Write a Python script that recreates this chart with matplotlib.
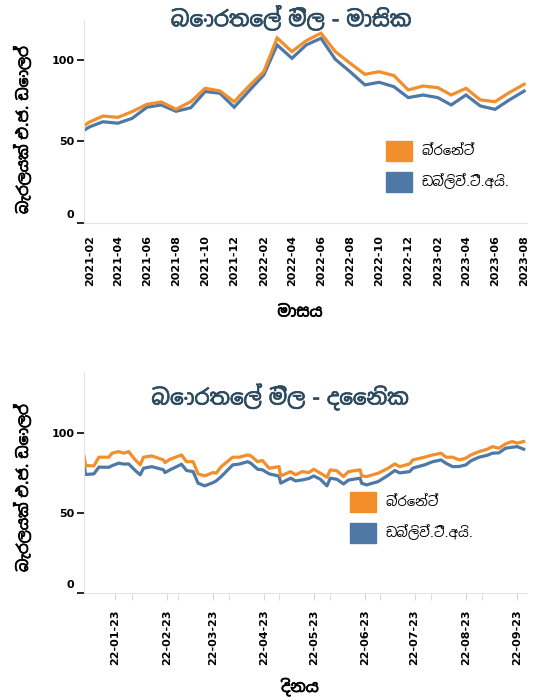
import matplotlib
matplotlib.use("Agg")
import matplotlib.pyplot as plt
import matplotlib.dates as mdates
import matplotlib.patheffects as pe
from matplotlib.patches import Patch
from matplotlib.transforms import ScaledTranslation
import pandas as pd

plt.rcParams['font.family'] = ['DejaVu Sans', 'Noto Sans Sinhala']

# monthly averages, 2021-01 .. 2023-08 (january is mostly cut off by the axis)
months = pd.date_range('2021-01-01', periods=32, freq='MS')
brent_monthly = [56.0, 62.0, 65.6, 64.8, 68.3, 72.8, 74.2, 69.8, 74.4, 82.6, 81.0, 74.4,
                 84.0, 92.8, 113.5, 105.1, 111.8, 116.4, 105.1, 98.0, 91.2, 92.8,
                 90.4, 81.6, 84.0, 83.0, 78.5, 82.6, 75.5, 74.4, 80.0, 85.1]
wti_monthly = [53.5, 59.0, 62.1, 61.2, 64.2, 71.0, 72.4, 68.5, 70.7, 80.6, 79.6, 71.0,
               81.0, 90.8, 109.2, 101.0, 109.2, 113.3, 100.4, 92.8, 84.7, 86.3,
               83.6, 76.9, 78.5, 76.9, 72.4, 78.5, 71.8, 69.7, 75.5, 80.9]

# daily prices 2023
days = ['2023-01-03', '2023-01-04', '2023-01-09', '2023-01-12', '2023-01-18', '2023-01-20',
        '2023-01-24', '2023-01-27', '2023-01-30', '2023-02-03', '2023-02-06', '2023-02-08',
        '2023-02-13', '2023-02-20', '2023-02-21', '2023-02-24', '2023-03-03', '2023-03-06',
        '2023-03-10', '2023-03-13', '2023-03-17', '2023-03-22', '2023-03-24', '2023-03-27',
        '2023-04-03', '2023-04-07', '2023-04-12', '2023-04-14', '2023-04-18', '2023-04-21',
        '2023-04-25', '2023-05-01', '2023-05-02', '2023-05-08', '2023-05-11', '2023-05-15',
        '2023-05-19', '2023-05-22', '2023-05-26', '2023-05-30', '2023-06-01', '2023-06-05',
        '2023-06-09', '2023-06-12', '2023-06-19', '2023-06-20', '2023-06-23', '2023-06-30',
        '2023-07-06', '2023-07-10', '2023-07-13', '2023-07-19', '2023-07-21', '2023-07-28',
        '2023-08-02', '2023-08-07', '2023-08-10', '2023-08-14', '2023-08-18', '2023-08-22',
        '2023-08-25', '2023-08-30', '2023-09-04', '2023-09-07', '2023-09-11', '2023-09-15',
        '2023-09-19', '2023-09-22', '2023-09-26']
brent_daily = [85.6, 79.5, 79.4, 84.8, 84.8, 87.3, 88.3, 87.3, 88.3, 83.1, 80.0, 84.8,
               85.6, 83.1, 81.4, 83.5, 86.2, 82.0, 82.0, 74.4, 73.1, 75.2, 74.8, 78.9,
               84.8, 84.8, 86.2, 85.6, 82.0, 82.7, 77.9, 78.9, 73.1, 75.8, 73.8, 75.8,
               75.2, 77.3, 74.8, 72.3, 76.9, 76.3, 72.7, 75.8, 76.9, 73.1, 72.7, 74.8,
               77.9, 80.6, 78.9, 80.6, 83.1, 84.8, 86.2, 87.3, 84.8, 84.8, 83.1, 84.2,
               86.2, 88.3, 89.8, 91.4, 90.4, 93.1, 94.6, 93.6, 94.6]
wti_daily = [80.4, 74.0, 74.4, 78.6, 78.5, 79.5, 81.1, 80.5, 80.6, 76.5, 73.8, 77.9,
             78.9, 77.0, 75.2, 76.9, 80.4, 76.5, 75.8, 68.6, 66.9, 68.9, 70.0, 72.7,
             80.0, 80.5, 82.0, 81.0, 77.3, 76.9, 74.4, 73.0, 68.6, 71.7, 70.0, 70.6,
             71.5, 73.1, 71.0, 66.9, 71.7, 71.0, 68.1, 70.5, 71.7, 68.5, 67.5, 69.6,
             73.5, 76.5, 75.0, 75.8, 78.0, 80.0, 82.0, 83.1, 81.0, 78.9, 79.0, 80.0,
             82.5, 84.8, 86.0, 87.3, 87.5, 90.4, 91.0, 91.4, 89.8]

names = ['බ්‍රෙන්ට්', 'ඩබ්ලිව්.ටී.අයි.']
colors = ['#f28e2b', '#4e79a7']
title_color = '#2c4a60'
ylabel = 'බැරලයක් එ.ජ. ඩොලර්'

W, H = 541, 700
fig = plt.figure(figsize=(W / 100, H / 100), dpi=100)


def px(x0, y0, x1, y1):
    return [x0 / W, 1 - y1 / H, (x1 - x0) / W, (y1 - y0) / H]


def heavy(color):
    # Noto Sans Sinhala only ships one weight here, thicken it a little
    return [pe.withStroke(linewidth=0.5, foreground=color)]


def style_axis(ax, ymax):
    ax.set_ylim(0, ymax)
    ax.set_yticks([0, 50, 100])
    for s in ['top', 'right']:
        ax.spines[s].set_visible(False)
    ax.spines['left'].set_color('#e4e4e4')
    ax.spines['bottom'].set_color('#e4e4e4')
    ax.tick_params(axis='y', length=5, width=1.2, color='black', labelsize=8, pad=2)
    for t in ax.get_yticklabels():
        t.set_fontweight('bold')
    lab0 = ax.get_yticklabels()[0]
    lab0.set_va('bottom')
    lab0.set_transform(lab0.get_transform() + ScaledTranslation(0, 3 / 100, fig.dpi_scale_trans))


# ---- monthly chart ----
ax1 = fig.add_axes(px(84, 20, 527, 223))
ax1.plot(months, wti_monthly, color=colors[1], lw=2.3, solid_joinstyle='miter')
ax1.plot(months, brent_monthly, color=colors[0], lw=2.3, solid_joinstyle='miter')
ax1.set_xlim(pd.Timestamp('2021-01-20'), pd.Timestamp('2023-08-07'))
style_axis(ax1, 124.5)
ax1.xaxis.set_major_locator(mdates.MonthLocator(bymonth=[2, 4, 6, 8, 10, 12]))
ax1.xaxis.set_major_formatter(mdates.DateFormatter('%Y-%m'))
ax1.tick_params(axis='x', length=0, pad=9, labelsize=8, labelrotation=90)
for t in ax1.get_xticklabels():
    t.set_fontweight('bold')

fig.text(291 / W, 1 - 18 / H, 'බොරතෙල් මිල - මාසික', ha='center', va='center',
         fontsize=15.5, color=title_color, path_effects=heavy(title_color))
fig.text(300 / W, 1 - 312 / H, 'මාසය', ha='center', va='center', fontsize=11.5,
         path_effects=heavy('black'))
fig.text(22 / W, 1 - 130 / H, ylabel, ha='center', va='center', rotation=90,
         fontsize=11, path_effects=heavy('black'))

handles = [Patch(color=c) for c in colors]
ax1.legend(handles, names, loc='upper left', bbox_to_anchor=(386 / W, 1 - 141 / H),
           bbox_transform=fig.transFigure, frameon=False, fontsize=9.5,
           handlelength=2.0, handleheight=2.0, handletextpad=0.7, labelspacing=0.8,
           borderpad=0, borderaxespad=0)

# ---- daily chart ----
d = pd.to_datetime(days)
ax2 = fig.add_axes(px(84, 372, 527, 593))
ax2.plot(d, wti_daily, color=colors[1], lw=2.3)
ax2.plot(d, brent_daily, color=colors[0], lw=2.3)
ax2.set_xlim(d[0], pd.Timestamp('2023-09-28'))
style_axis(ax2, 138)
ax2.xaxis.set_major_locator(mdates.DayLocator(bymonthday=22))
ax2.xaxis.set_minor_locator(mdates.MonthLocator())
ax2.xaxis.set_major_formatter(mdates.DateFormatter('%d-%m-%y'))
ax2.tick_params(axis='x', which='both', length=5, color='#d8d8d8', pad=7,
                labelsize=8, labelrotation=90)
for t in ax2.get_xticklabels():
    t.set_fontweight('bold')

fig.text(280 / W, 1 - 397 / H, 'බොරතෙල් මිල - දෛනික', ha='center', va='center',
         fontsize=15.5, color=title_color, path_effects=heavy(title_color))
fig.text(300 / W, 1 - 687 / H, 'දිනය', ha='center', va='center', fontsize=11.5,
         path_effects=heavy('black'))
fig.text(22 / W, 1 - 488 / H, ylabel, ha='center', va='center', rotation=90,
         fontsize=11, path_effects=heavy('black'))

ax2.legend(handles, names, loc='upper left', bbox_to_anchor=(350 / W, 1 - 492 / H),
           bbox_transform=fig.transFigure, frameon=False, fontsize=9.5,
           handlelength=2.0, handleheight=2.0, handletextpad=0.7, labelspacing=0.8,
           borderpad=0, borderaxespad=0)

plt.savefig('out.png', dpi=100)
